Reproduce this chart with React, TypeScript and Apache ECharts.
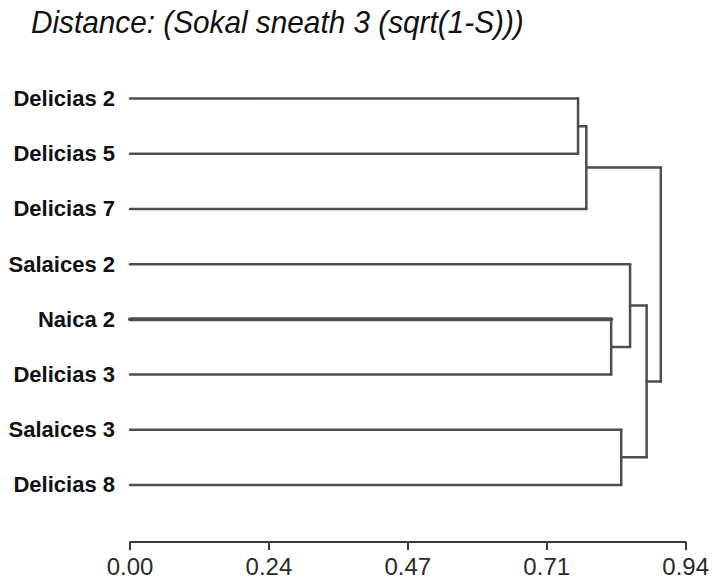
import React, { useEffect, useRef } from "react";
import * as echarts from "echarts";

const TITLE = "Distance: (Sokal sneath 3 (sqrt(1-S)))";
const LEAVES = ["Delicias 2", "Delicias 5", "Delicias 7", "Salaices 2", "Naica 2", "Delicias 3", "Salaices 3", "Delicias 8"];
// merges: node ids 0..7 are leaves, 8.. are clusters in merge order
const MERGE_A = [0, 8, 4, 3, 6, 11, 9];
const MERGE_B = [1, 2, 5, 10, 7, 12, 13];
const MERGE_HEIGHT = [0.758, 0.772, 0.814, 0.846, 0.831, 0.874, 0.898];
const TICK_LABELS = ["0.00", "0.24", "0.47", "0.71", "0.94"];
const AXIS_MAX = 0.94;
const TICK_STEP = AXIS_MAX / (TICK_LABELS.length - 1);

export default function App() {
  const ref = useRef<HTMLDivElement>(null);
  useEffect(() => {
    if (!ref.current) return;
    const chart = echarts.init(ref.current, null, { renderer: "svg" });
    const nodeX: number[] = [...LEAVES.map(() => 0), ...MERGE_HEIGHT];
    const nodeY: number[] = LEAVES.map((_, i) => i);
    MERGE_A.forEach((a, i) => {
      nodeY.push((nodeY[a] + nodeY[MERGE_B[i]]) / 2);
    });
    const lineColor = "#4e4e4e";
    const thickLeaf = 4;
    const option: any = {
      animation: false,
      backgroundColor: "#fff",
      graphic: [
        {
          type: "text",
          left: 31,
          top: 6,
          scaleX: 0.93,
          style: {
            text: TITLE,
            font: "italic 32px 'Liberation Sans', Arial, sans-serif",
            fill: "#111",
          },
        },
      ],
      grid: { left: 130, right: 24, top: 71, bottom: 69.5, containLabel: false },
      xAxis: {
        type: "value",
        min: 0,
        max: AXIS_MAX,
        interval: TICK_STEP,
        offset: 29.5,
        splitLine: { show: false },
        axisLine: { show: true, onZero: false, lineStyle: { color: "#3a3a3a", width: 2 } },
        axisTick: { show: true, length: 8, lineStyle: { color: "#3a3a3a", width: 2 } },
        axisLabel: {
          margin: 12,
          fontSize: 24,
          fontFamily: "'Liberation Sans', Arial, sans-serif",
          color: "#2a2a2a",
          formatter: (v: number) => TICK_LABELS[Math.round(v / TICK_STEP)] ?? "",
        },
      },
      yAxis: [
        {
          type: "category",
          data: LEAVES,
          inverse: true,
          boundaryGap: true,
          axisLine: { show: false },
          axisTick: { show: false },
          splitLine: { show: false },
          axisLabel: {
            margin: 15,
            fontSize: 22,
            fontWeight: "bold",
            fontFamily: "'Liberation Sans', Arial, sans-serif",
            color: "#111",
          },
        },
        {
          type: "value",
          min: -0.5,
          max: LEAVES.length - 0.5,
          inverse: true,
          show: false,
          splitLine: { show: false },
        },
      ],
      series: [
        {
          type: "custom",
          clip: false,
          yAxisIndex: 1,
          data: MERGE_HEIGHT.map((h, i) => [h, nodeY[LEAVES.length + i]]),
          encode: { x: 0, y: 1 },
          renderItem: (params: any, api: any) => {
            const i = params.dataIndex;
            const a = MERGE_A[i];
            const b = MERGE_B[i];
            const h = MERGE_HEIGHT[i];
            const a0 = api.coord([nodeX[a], nodeY[a]]);
            const a1 = api.coord([h, nodeY[a]]);
            const b1 = api.coord([h, nodeY[b]]);
            const b0 = api.coord([nodeX[b], nodeY[b]]);
            const w = (n: number) => (n === 4 ? thickLeaf : 2.5);
            const seg = (p: number[], q: number[], lw: number) => ({
              type: "line",
              shape: { x1: p[0], y1: p[1], x2: q[0], y2: q[1] },
              style: { stroke: lineColor, lineWidth: lw, lineCap: "round" },
            });
            return {
              type: "group",
              children: [seg(a0, a1, w(a)), seg(a1, b1, 2.5), seg(b1, b0, w(b))],
            };
          },
        },
      ],
    };
    chart.setOption(option);
    return () => chart.dispose();
  }, []);
  return <div ref={ref} style={{ position: "fixed", left: 0, top: 0, width: 712, height: 582 }} />;
}
